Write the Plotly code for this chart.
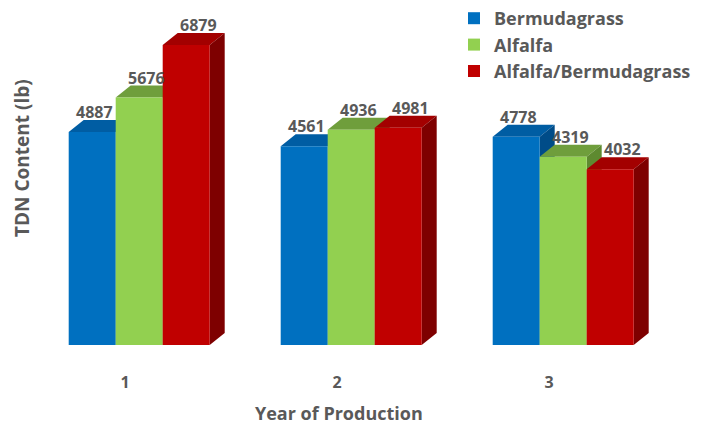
import plotly.graph_objects as go

# ---- data ----
years = [1, 2, 3]
year_labels = ["1", "2", "3"]
series_names = ["Bermudagrass", "Alfalfa", "Alfalfa/Bermudagrass"]
bermudagrass = [4887, 4561, 4778]
alfalfa = [5676, 4936, 4319]
mix = [6879, 4981, 4032]
series_values = [bermudagrass, alfalfa, mix]

# ---- style ----
front_colors = ["#0070C0", "#92D050", "#C00000"]
top_colors = ["#005DA3", "#6F9E3C", "#A30000"]
side_colors = ["#004C88", "#5E8A30", "#7E0000"]
text_gray = "#595959"
FONT = "Open Sans"

W, H = 705, 428
margin = dict(l=12, r=0, t=0, b=83)
plot_w = W - margin["l"] - margin["r"]
plot_h = H - margin["t"] - margin["b"]
px_x = 212.0
px_y = 0.0436
x_range = [0.4, 0.4 + plot_w / px_x]
y_range = [0, plot_h / px_y]

bar_w = 0.2217
group_w = bar_w * 3
depth_dx = 15 / px_x     # 3D depth offset in data units
depth_dy = 12 / px_y

fig = go.Figure()
shapes = []
annotations = []

for i, (name, vals) in enumerate(zip(series_names, series_values)):
    off = -group_w / 2 + i * bar_w
    fig.add_trace(go.Bar(
        x=years, y=vals, name=name, width=bar_w, offset=off,
        marker=dict(color=front_colors[i], line=dict(width=0)),
        hoverinfo="x+y+name",
    ))

for g, yr in enumerate(years):
    for i, vals in enumerate(series_values):
        v = vals[g]
        x0 = yr - group_w / 2 + i * bar_w
        x1 = x0 + bar_w
        top = (f"M {x0},{v} L {x1},{v} L {x1 + depth_dx},{v + depth_dy} "
               f"L {x0 + depth_dx},{v + depth_dy} Z")
        side = (f"M {x1},0 L {x1 + depth_dx},{depth_dy} "
                f"L {x1 + depth_dx},{v + depth_dy} L {x1},{v} Z")
        shapes.append(dict(type="path", path=top, xref="x", yref="y",
                           fillcolor=top_colors[i], line=dict(width=0), layer="below"))
        shapes.append(dict(type="path", path=side, xref="x", yref="y",
                           fillcolor=side_colors[i], line=dict(width=0), layer="below"))
        annotations.append(dict(
            x=x0 + bar_w / 2, y=v, xref="x", yref="y", text=f"{v}",
            showarrow=False, yshift=20, xshift=2 + 5 * i,
            font=dict(family=FONT, size=16, color=text_gray, weight="bold"),
        ))

# y axis title
annotations.append(dict(
    x=(22 - margin["l"]) / plot_w, y=(345 - 158) / plot_h, xref="paper", yref="paper",
    text="TDN Content (lb)", textangle=-90, showarrow=False,
    xanchor="center", yanchor="middle",
    font=dict(family=FONT, size=19, color=text_gray, weight="bold"),
))
# x axis title
annotations.append(dict(
    x=(339 - margin["l"]) / plot_w, y=-(413 - 345) / plot_h, xref="paper", yref="paper",
    text="Year of Production", showarrow=False, xanchor="center", yanchor="middle",
    font=dict(family=FONT, size=18, color=text_gray, weight="bold"),
))

fig.update_layout(
    width=W, height=H, margin=margin,
    paper_bgcolor="white", plot_bgcolor="white",
    barmode="group",
    shapes=shapes, annotations=annotations,
    showlegend=True,
    legend=dict(
        x=(454 - margin["l"]) / plot_w, y=1.0,
        xanchor="left", yanchor="top",
        font=dict(family=FONT, size=18, color=text_gray, weight="bold"),
        itemwidth=30, tracegroupgap=0, bgcolor="rgba(0,0,0,0)",
    ),
    xaxis=dict(
        range=x_range, tickvals=years, ticktext=year_labels,
        showgrid=False, zeroline=False, showline=False, ticks="",
        tickfont=dict(family=FONT, size=16, color=text_gray, weight="bold"),
        ticklabelshift=-14, ticklabelstandoff=26,
    ),
    yaxis=dict(
        range=y_range, showgrid=False, zeroline=False, showline=False,
        showticklabels=False, ticks="",
    ),
)

fig.write_html("out.html")
